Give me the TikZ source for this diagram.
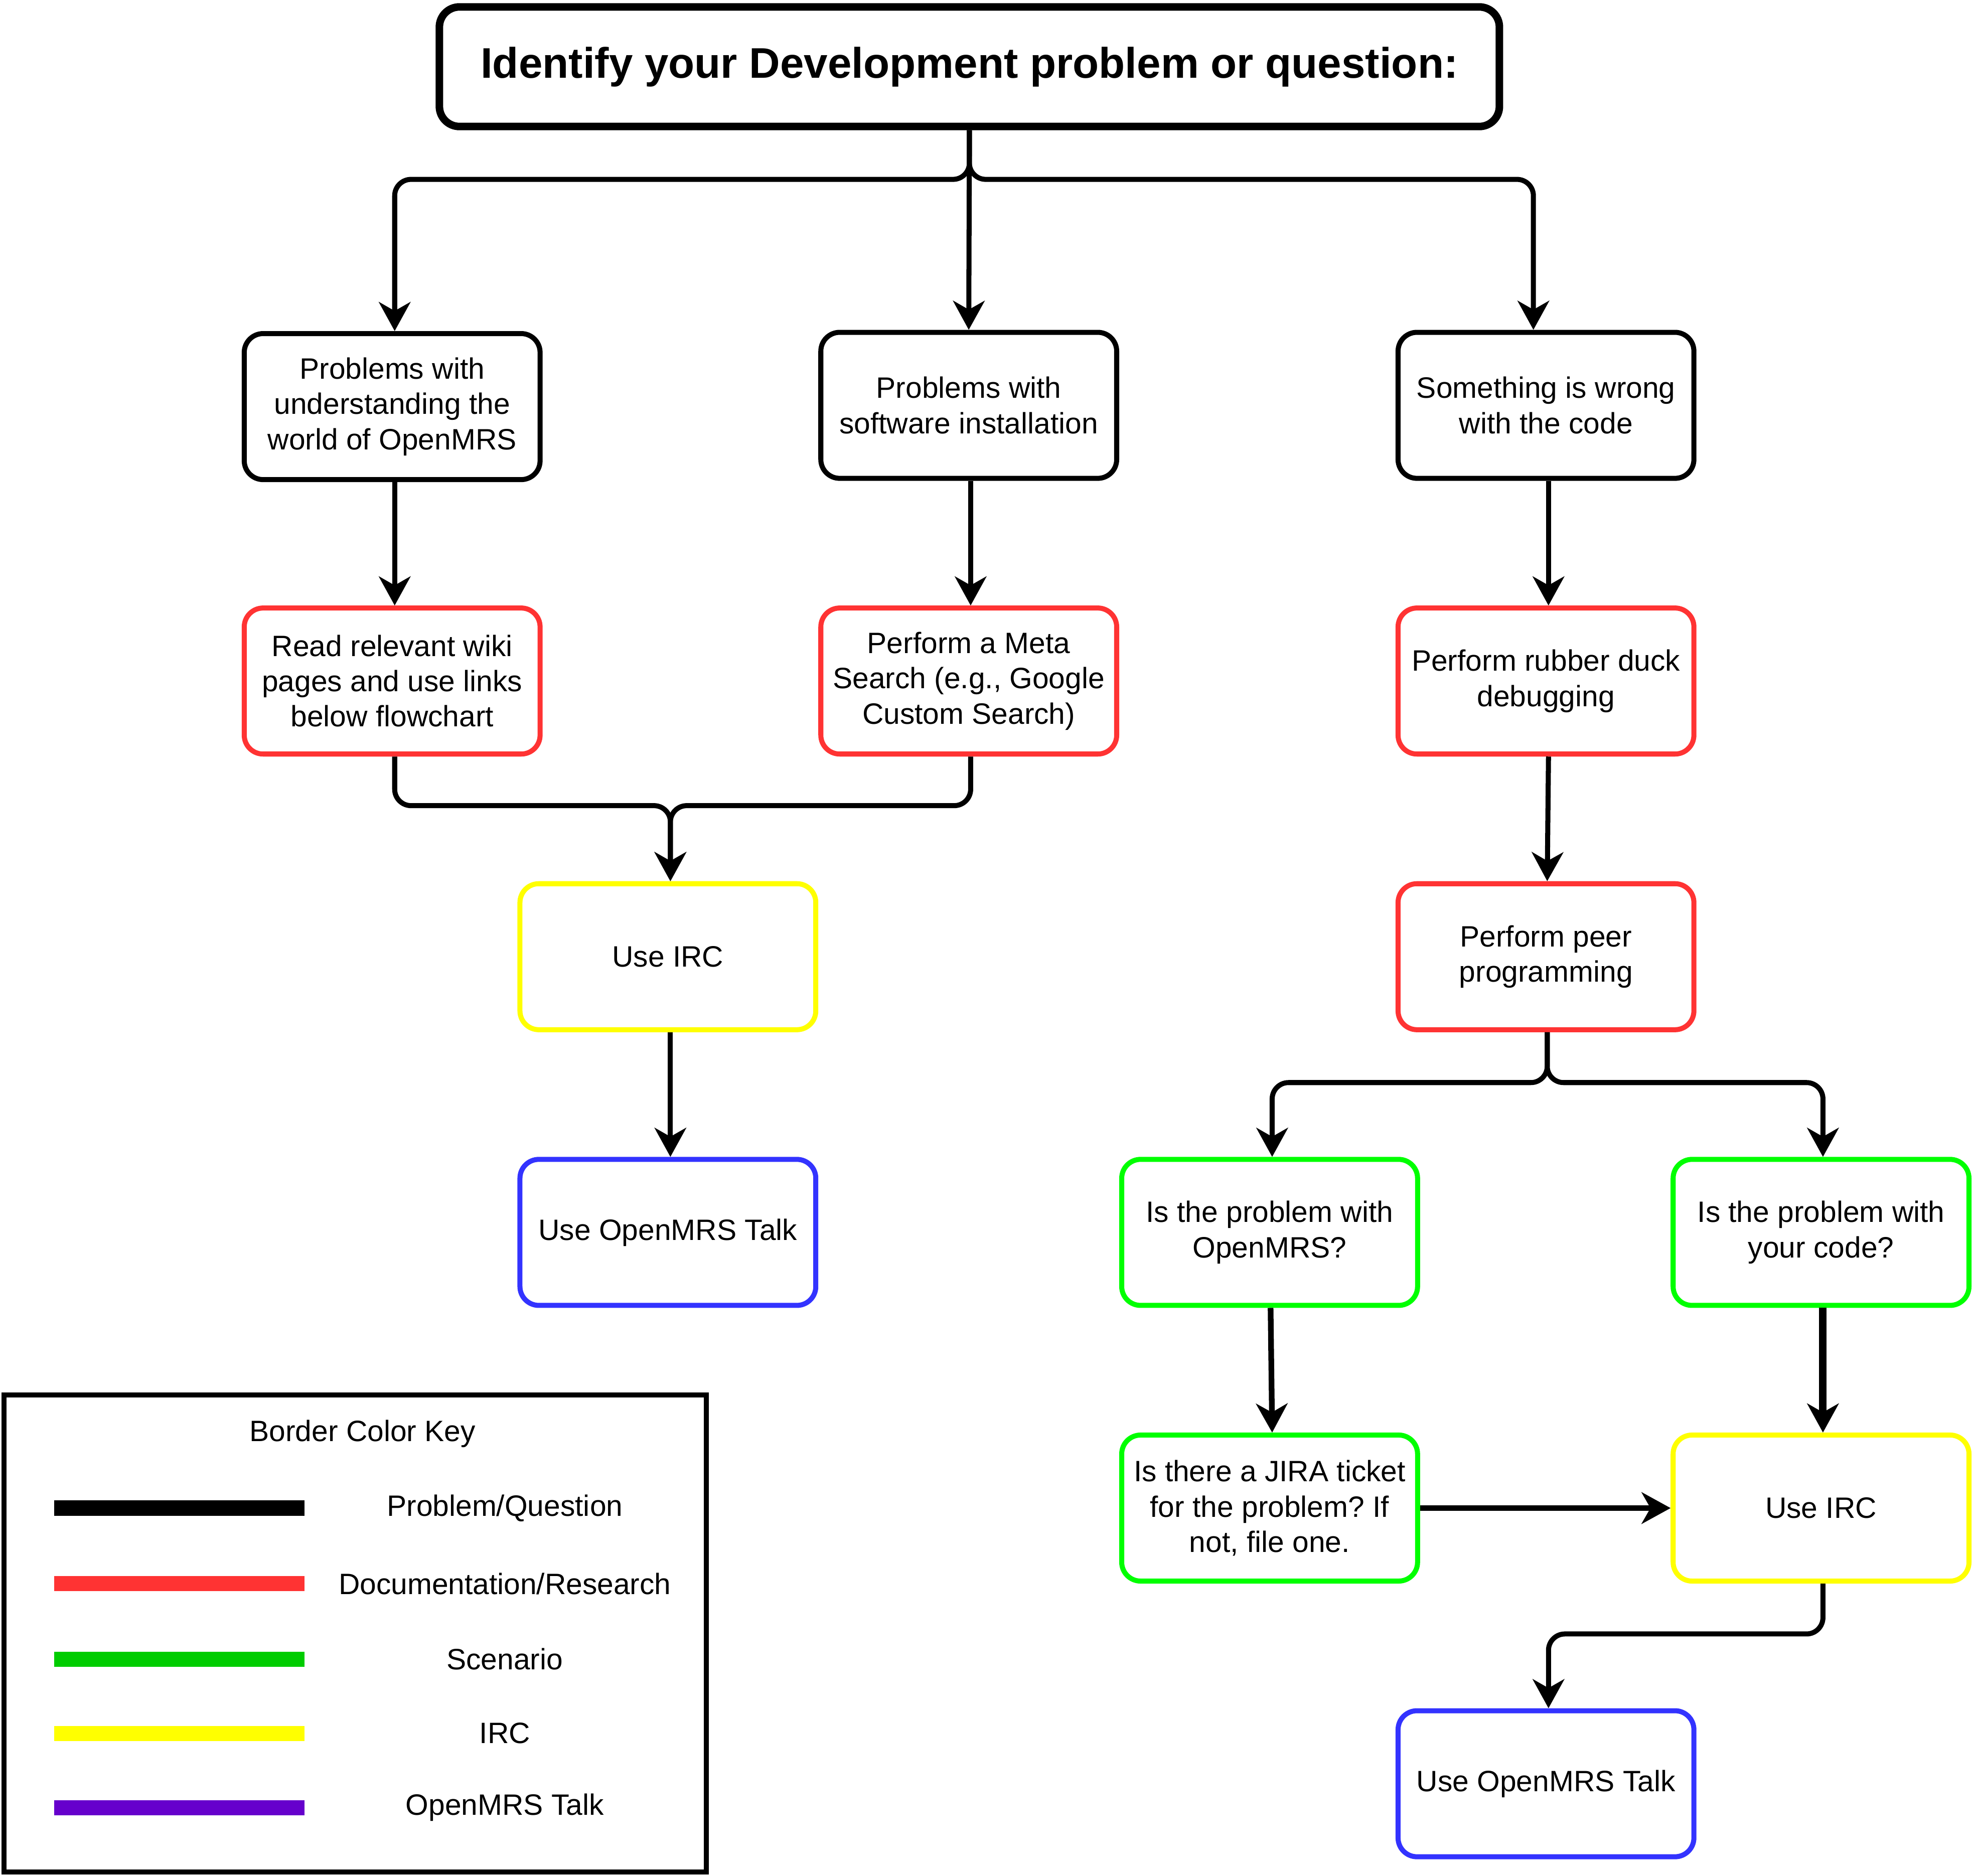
\documentclass[tikz,border=0pt]{standalone}
\usepackage{fontspec}
\setmainfont{Liberation Sans}
\usetikzlibrary{arrows.meta}
\frenchspacing

\definecolor{docred}{HTML}{FF3333}
\definecolor{scengreen}{HTML}{00FF00}
\definecolor{ircyellow}{HTML}{FFFF00}
\definecolor{talkblue}{HTML}{3333FF}
\definecolor{keygreen}{HTML}{00CC00}
\definecolor{keypurple}{HTML}{6600CC}

\tikzset{
    box/.style={draw, line width=4pt, rounded corners=15pt, align=center,
        minimum width=235pt, minimum height=116pt, inner sep=0pt,
        font=\fontsize{23.4}{28}\selectfont},
    flow/.style={line width=4pt, rounded corners=13pt,
        -{Stealth[length=23pt,width=25pt,inset=7pt]}},
    keyline/.style={line width=12pt},
    keytext/.style={font=\fontsize{23.4}{28}\selectfont}
}

\begin{document}
\begin{tikzpicture}[x=1pt, y=-1pt]

    % Page frame
    \useasboundingbox (0,0) rectangle (1568,1490);

    % Title box
    \node[draw, line width=6pt, rounded corners=16pt, minimum width=842pt,
        minimum height=95pt, font=\fontsize{34}{40}\selectfont\bfseries]
        (title) at (770,53) {Identify your Development problem or question:};

    % Problem boxes (black border)
    \node[box] (world) at (311.5,323) {Problems with\\understanding the\\world of OpenMRS};
    \node[box] (install) at (769.5,322) {Problems with\\software installation};
    \node[box] (code) at (1228,322) {Something is wrong\\with the code};

    % Research boxes (red border)
    \node[box, docred, text=black] (wiki) at (311.5,541) {Read relevant wiki\\pages and use links\\below flowchart};
    \node[box, docred, text=black] (meta) at (769.5,541) {Perform a Meta\\Search (e.g., Google\\Custom Search)};
    \node[box, docred, text=black] (duck) at (1228,541) {Perform rubber duck\\debugging};
    \node[box, docred, text=black] (peer) at (1228,760) {Perform peer\\programming};

    % IRC and Talk boxes, left branch
    \node[box, ircyellow, text=black] (ircA) at (530.5,760) {Use IRC};
    \node[box, talkblue, text=black] (talkA) at (530.5,979) {Use OpenMRS Talk};

    % Scenario boxes (green border)
    \node[box, scengreen, text=black] (withmrs) at (1008.5,979) {Is the problem with\\OpenMRS?};
    \node[box, scengreen, text=black] (withcode) at (1446.5,979) {Is the problem with\\your code?};
    \node[box, scengreen, text=black] (jira) at (1008.5,1198) {Is there a JIRA ticket\\for the problem? If\\not, file one.};

    % IRC and Talk boxes, right branch
    \node[box, ircyellow, text=black] (ircB) at (1446.5,1198) {Use IRC};
    \node[box, talkblue, text=black] (talkB) at (1228,1417) {Use OpenMRS Talk};

    % Connectors from the title
    \draw[flow] (title.south) -- ++(0,39) -| ([xshift=2pt]world.north);
    \draw[flow] (title.south) -- (install.north);
    \draw[flow] (title.south) -- ++(0,39) -| ([xshift=-10pt]code.north);

    % Left and middle columns
    \draw[flow] ([xshift=2pt]world.south) -- ([xshift=2pt]wiki.north);
    \draw[flow] ([xshift=1.5pt]install.south) -- ([xshift=1.5pt]meta.north);
    \draw[flow] ([xshift=2pt]wiki.south) -- ++(0,39) -| ([xshift=2pt]ircA.north);
    \draw[flow] ([xshift=1.5pt]meta.south) -- ++(0,39) -| ([xshift=2pt]ircA.north);
    \draw[flow] ([xshift=2pt]ircA.south) -- ([xshift=2pt]talkA.north);

    % Right column
    \draw[flow] ([xshift=2pt]code.south) -- ([xshift=2pt]duck.north);
    \draw[flow] ([xshift=2pt]duck.south) -- ([xshift=1pt]peer.north);
    \draw[flow] ([xshift=1pt]peer.south) -- ++(0,40) -| ([xshift=2pt]withmrs.north);
    \draw[flow] ([xshift=1pt]peer.south) -- ++(0,40) -| ([xshift=1.5pt]withcode.north);
    \draw[flow, line width=4.5pt] (withmrs) -- ([xshift=2pt]jira.north);
    \draw[flow, line width=6pt] ([xshift=1.5pt]withcode.south) -- ([xshift=1.5pt]ircB.north);
    \draw[flow] (jira) -- (ircB);
    \draw[flow] ([xshift=1.5pt]ircB.south) -- ++(0,40) -| ([xshift=2pt]talkB.north);

    % Border color key
    \draw[line width=4pt] (3,1108) rectangle (561,1487);
    \node[keytext] (keytitle) at (288,1139) {Border Color Key};
    \draw[keyline, black] (43,1198) -- (242,1198);
    \draw[keyline, docred] (43,1258) -- (242,1258);
    \draw[keyline, keygreen] (43,1318) -- (242,1318);
    \draw[keyline, ircyellow] (43,1377) -- (242,1377);
    \draw[keyline, keypurple] (43,1436) -- (242,1436);
    \node[keytext] (keyprob) at (401,1198) {Problem/Question};
    \node[keytext] (keydoc) at (401,1258) {Documentation/Research};
    \node[keytext] (keyscen) at (401,1318) {Scenario};
    \node[keytext] (keyirc) at (401,1377) {IRC};
    \node[keytext] (keytalk) at (401,1436) {OpenMRS Talk};

\end{tikzpicture}
\end{document}
